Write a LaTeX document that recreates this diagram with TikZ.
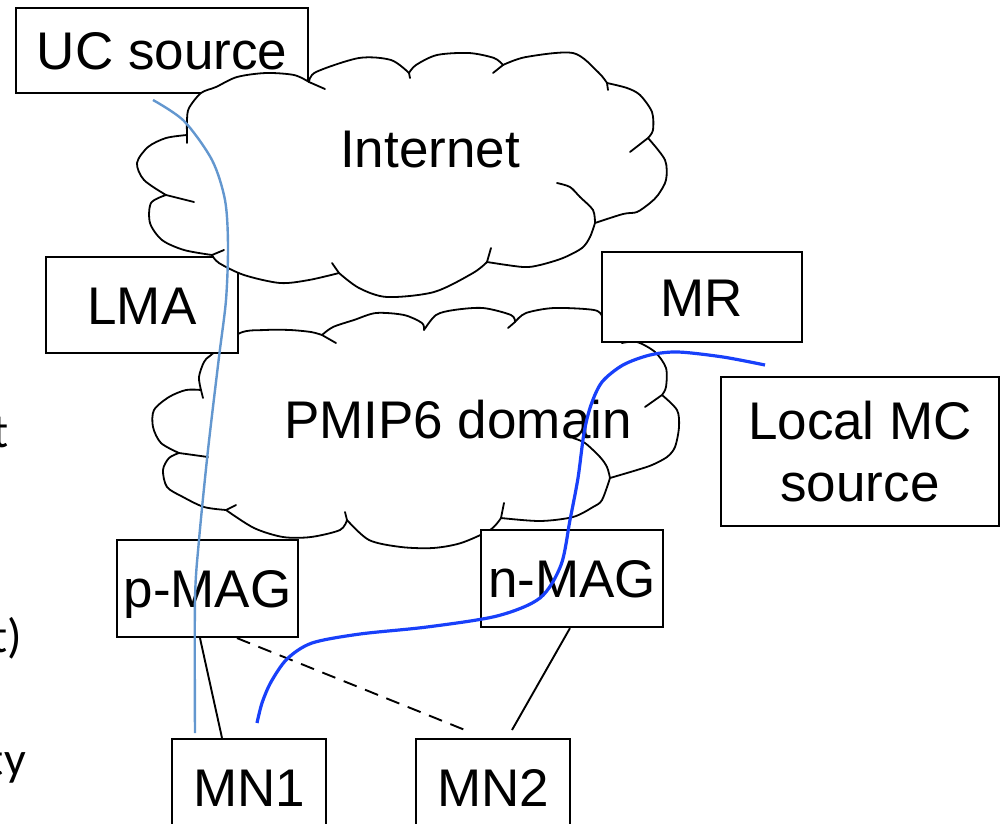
\documentclass[tikz,border=0pt]{standalone}
\usepackage{fontspec}
\setmainfont{Liberation Sans}
\newfontfamily\slidefont{Carlito}
\usepackage{xcolor}
\usetikzlibrary{calc}
\definecolor{ucblue}{RGB}{99,151,207}
\definecolor{mcblue}{RGB}{24,64,250}
\tikzstyle{netbox} = [draw=black, fill=white, line width=2.2pt, inner sep=0pt,
font=\fontsize{53}{62}\selectfont, text height=38pt, text depth=0pt]
\tikzstyle{cloudline} = [draw=black, fill=white, line width=1.8pt, line join=round]
\tikzstyle{curl} = [draw=black, line width=1.8pt, line cap=round]
\tikzstyle{cloudtext} = [font=\fontsize{53}{62}\selectfont, anchor=base]
\tikzstyle{link} = [draw=black, line width=1.9pt]
\tikzstyle{ucpath} = [draw=ucblue, line width=2.4pt]
\tikzstyle{mcpath} = [draw=mcblue, line width=3.2pt]
\tikzstyle{slidetext} = [font=\slidefont\fontsize{48}{56}\selectfont, anchor=base east, inner sep=0pt]

\begin{document}
\begin{tikzpicture}[x=1pt, y=-1pt]
    \useasboundingbox (0,0) rectangle (1002,823);
    \clip (0,0) rectangle (1002,823);
    % cut-off text of the slide
    \node[slidetext] (frag1) at (9,447) {t};
    \node[slidetext] (frag2) at (22,652) {t)};
    \node[slidetext] (frag3) at (26,775) {ty};
    % sources
    \node[netbox, minimum width=292pt, minimum height=85pt] (uc) at (162,50.5) {UC source};
    % PMIP6 cloud
    \path[cloudline] plot[smooth] coordinates {(201,390) (199,377) (204,362) (211,355) (240,333) (265,330) (290,330) (311,332) (322,335)}
        -- plot[smooth] coordinates {(322,335) (333,327) (354,320) (376,313) (404,315) (422,323) (424,330)}
        -- plot[smooth] coordinates {(424,330) (436,315) (454,310) (483,308) (511,315) (515,322)}
        -- plot[smooth] coordinates {(515,322) (526,313) (554,308) (594,310) (603,317) (613,330) (622,343)}
        -- plot[smooth] coordinates {(622,343) (637,342) (655,352) (666,368) (666,387) (662,395)}
        -- plot[smooth] coordinates {(662,395) (677,410) (679,427) (675,447) (667,457) (652,465) (637,470) (610,478)}
        -- plot[smooth] coordinates {(610,478) (602,500) (593,507) (573,517) (540,521) (501,518)}
        -- plot[smooth] coordinates {(501,518) (490,530) (461,543) (433,548) (401,547) (369,540) (347,520)}
        -- plot[smooth] coordinates {(347,520) (340,530) (311,537) (283,537) (254,528) (226,510)}
        -- plot[smooth] coordinates {(226,510) (204,507) (183,497) (167,487) (163,470) (169,458) (179,453)}
        -- plot[smooth] coordinates {(179,453) (161,443) (153,427) (154,410) (169,397) (186,390) (201,390)} -- cycle;
    \draw[curl] (322,335) -- (336,343) (515,322) -- (508,328) (662,395) -- (645,407)
        (501,518) -- (504,503) (347,520) -- (345,512) (226,510) -- (236,505)
        (179,453) -- (208,457) (201,390) -- (203,398);
    \draw[curl] plot[smooth] coordinates {(610,478) (607,467) (600,457) (585,443) (573,438)};
    \node[cloudtext] (pmip) at (458,438) {PMIP6 domain};
    \node[netbox, minimum width=192pt, minimum height=96pt] (lma) at (142,305) {LMA};
    % Internet cloud
    \path[cloudline] plot[smooth] coordinates {(187,135) (187,120) (189,108) (201,93) (216,87) (237,77) (266,73) (294,75) (309,82)}
        -- plot[smooth] coordinates {(309,82) (316,72) (359,58) (391,60) (409,73)}
        -- plot[smooth] coordinates {(409,73) (416,65) (437,55) (469,53) (494,58) (503,65)}
        -- plot[smooth] coordinates {(503,65) (526,57) (573,53) (598,72) (607,83)}
        -- plot[smooth] coordinates {(607,83) (627,88) (640,95) (652,112) (653,130) (648,138)}
        -- plot[smooth] coordinates {(648,138) (665,160) (666,180) (658,195) (650,203) (637,212) (623,214) (595,223)}
        -- plot[smooth] coordinates {(595,223) (590,237) (582,248) (563,258) (540,265) (523,267) (487,262)}
        -- plot[smooth] coordinates {(487,262) (473,273) (434,292) (387,297) (359,288) (339,273)}
        -- plot[smooth] coordinates {(339,273) (309,280) (280,283) (244,275) (219,263) (212,255)}
        -- plot[smooth] coordinates {(212,255) (184,250) (162,240) (150,223) (151,203) (166,195)}
        -- plot[smooth] coordinates {(166,195) (144,180) (137,163) (148,147) (166,138) (187,135)} -- cycle;
    \draw[curl] (187,135) -- (187,143) (309,82) -- (325,89) (409,73) -- (410,78)
        (503,65) -- (493,73) (607,83) -- (608,90) (648,138) -- (630,152)
        (487,262) -- (491,248) (339,273) -- (332,263) (212,255) -- (224,250)
        (166,195) -- (194,202);
    \draw[curl] plot[smooth] coordinates {(595,223) (593,210) (580,197) (570,187) (557,183)};
    \node[cloudtext] (internet) at (430,167) {Internet};
    % routers and hosts
    \node[netbox, minimum width=200pt, minimum height=90pt] (mr) at (702,297) {MR};
    \node[netbox, minimum width=278pt, minimum height=149pt, text height=, text depth=, align=center] (mcsrc) at (860,451.5) {Local MC\\source};
    \node[netbox, minimum width=181pt, minimum height=97pt] (pmag) at (207.5,588.5) {p-MAG};
    \node[netbox, minimum width=182pt, minimum height=97pt] (nmag) at (572,578.5) {n-MAG};
    \node[netbox, minimum width=154pt, minimum height=97pt] (mn1) at (249,787.5) {MN1};
    \node[netbox, minimum width=154pt, minimum height=97pt] (mn2) at (493,787.5) {MN2};
    % links
    \coordinate (dashend) at (465,730);
    \coordinate (nmagend) at (512,730);
    \draw[link] ([xshift=-7.5pt]pmag.south) -- ([xshift=-27pt]mn1.north);
    \draw[link, dash pattern=on 14pt off 9pt] ([xshift=29.5pt]pmag.south) -- (dashend);
    \draw[link] ([xshift=-2pt]nmag.south) -- (nmagend);
    % unicast and multicast flows
    \coordinate (ucstart) at (153,100);
    \coordinate (ucend) at (195,733);
    \draw[ucpath] plot[smooth] coordinates {(ucstart) (184,121) (212,160) (225,200) (228,245) (226,300) (219,357) (208,450) (199,540) (195,600) (ucend)};
    \coordinate (mcstart) at (765,365);
    \coordinate (mcend) at (257,723);
    \draw[mcpath] plot[smooth] coordinates {(mcstart) (723,357) (678,352) (650,355) (623,365) (602,382) (591,405) (584,433) (578,478) (570,520) (561,565) (540,598) (497,616) (427,627) (360,634) (312,643) (287,659) (271,682) (262,703) (mcend)};
\end{tikzpicture}
\end{document}
